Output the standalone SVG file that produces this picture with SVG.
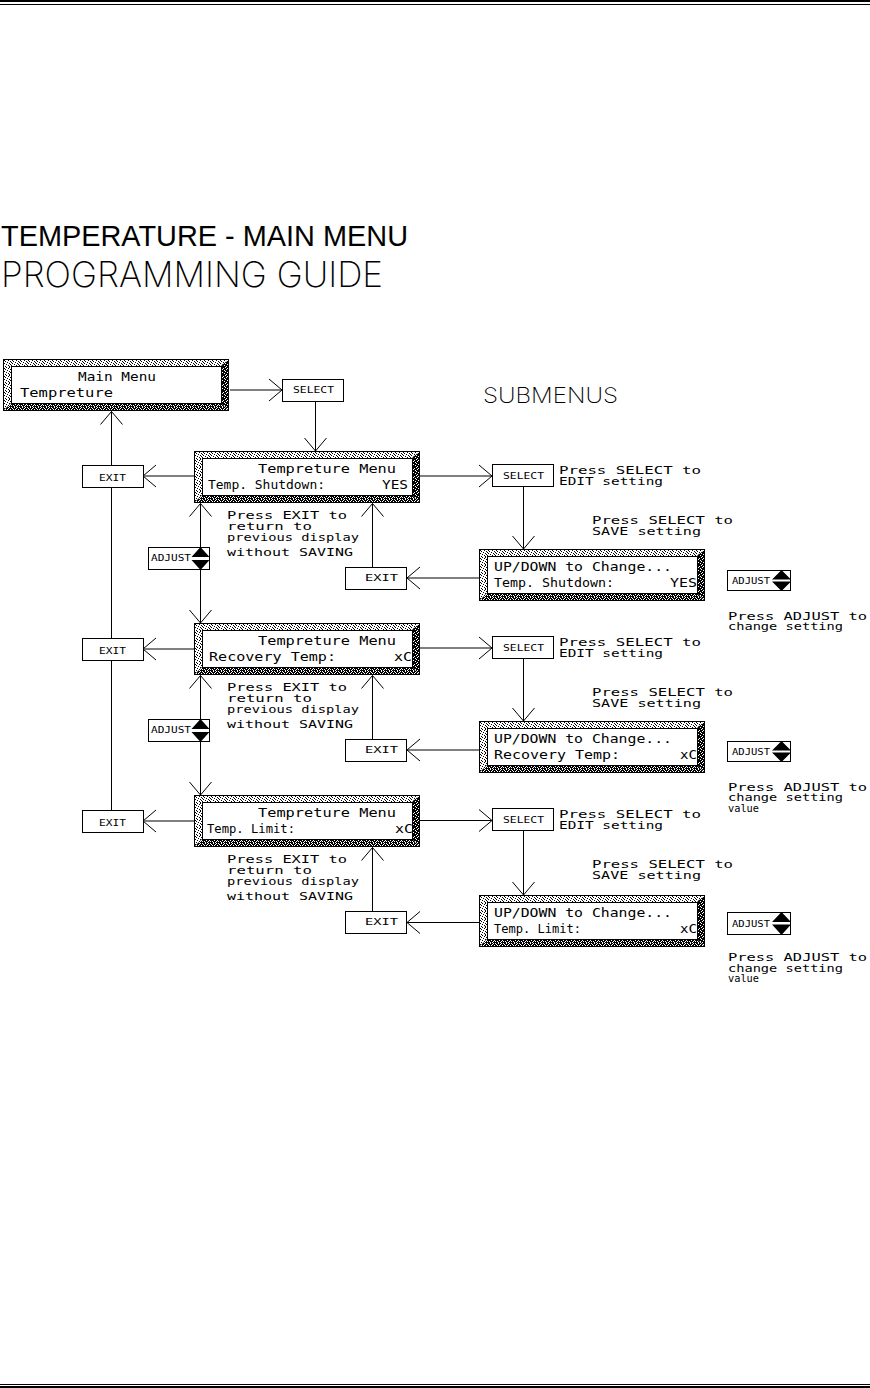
<svg xmlns="http://www.w3.org/2000/svg" xmlns:xlink="http://www.w3.org/1999/xlink" width="870" height="1388" viewBox="0 0 870 1388">
<style>
.t{font-family:"DejaVu Sans Mono","Liberation Mono",monospace;font-size:12px;fill:#000}
.n{font-family:"DejaVu Sans Mono","Liberation Mono",monospace;font-size:11px;fill:#000}
.b{font-family:"DejaVu Sans Mono","Liberation Mono",monospace;font-size:9px;fill:#000}
.a{font-family:"DejaVu Sans Mono","Liberation Mono",monospace;font-size:8.5px;fill:#000}
.big{font-family:Inter,"DejaVu Sans",sans-serif;font-weight:200;fill:#000}
.ln{stroke:#000;stroke-width:1;fill:none}
.box{fill:#fff;stroke:#000;stroke-width:1}
.arr{marker-end:url(#ah)}
</style>
<defs>
<marker id="ah" viewBox="0 0 30 30" markerWidth="30" markerHeight="30" refX="15" refY="15" orient="auto" markerUnits="userSpaceOnUse">
<path d="M2,4 L15,15 L2,26" fill="none" stroke="#000" stroke-width="1"/>
</marker>
<pattern id="lite" width="8" height="8" patternUnits="userSpaceOnUse">
<rect width="8" height="8" fill="#fff"/>
<path shape-rendering="crispEdges" fill="#000" d="M0 0h1v1h-1zM3 0h1v1h-1zM6 0h1v1h-1zM1 1h1v1h-1zM5 1h1v1h-1zM2 2h1v1h-1zM7 2h1v1h-1zM0 3h1v1h-1zM4 3h1v1h-1zM1 4h1v1h-1zM6 4h1v1h-1zM3 5h1v1h-1zM7 5h1v1h-1zM0 6h1v1h-1zM5 6h1v1h-1zM2 7h1v1h-1zM6 7h1v1h-1z"/>
</pattern>
<pattern id="mid" width="8" height="8" patternUnits="userSpaceOnUse">
<rect width="8" height="8" fill="#000"/>
<path shape-rendering="crispEdges" fill="#fff" d="M0 0h1v1h-1zM3 0h1v1h-1zM6 0h1v1h-1zM1 1h1v1h-1zM5 1h1v1h-1zM2 2h1v1h-1zM4 2h1v1h-1zM7 2h1v1h-1zM0 3h1v1h-1zM6 3h1v1h-1zM1 4h1v1h-1zM3 4h1v1h-1zM5 4h1v1h-1zM4 5h1v1h-1zM7 5h1v1h-1zM0 6h1v1h-1zM2 6h1v1h-1zM6 6h1v1h-1zM3 7h1v1h-1zM5 7h1v1h-1z"/>
</pattern>
<pattern id="dark" width="8" height="8" patternUnits="userSpaceOnUse">
<rect width="8" height="8" fill="#000"/>
<path shape-rendering="crispEdges" fill="#fff" d="M2 0h1v1h-1zM6 0h1v1h-1zM0 1h1v1h-1zM4 1h1v1h-1zM3 2h1v1h-1zM7 2h1v1h-1zM1 3h1v1h-1zM5 3h1v1h-1zM6 4h1v1h-1zM0 5h1v1h-1zM3 5h1v1h-1zM5 6h1v1h-1zM1 7h1v1h-1zM7 7h1v1h-1z"/>
</pattern>
<g id="lcd">
<rect x="0" y="0" width="226" height="52" fill="url(#lite)"/>
<path d="M218 7 L226 0 L226 52 L218 44 Z" fill="url(#dark)"/>
<path d="M8 44 L218 44 L226 52 L0 52 Z" fill="url(#mid)"/>
<rect x="0.5" y="0.5" width="225" height="51" fill="none" stroke="#000"/>
<rect x="8.5" y="7.5" width="210" height="37" fill="#fff" stroke="#000"/>
</g>
</defs>
<rect width="870" height="1388" fill="#fff"/>
<g id="page-rules" shape-rendering="crispEdges">
<rect x="0" y="0" width="870" height="2" fill="#000"/>
<rect x="0" y="4" width="870" height="1" fill="#000"/>
<rect x="0" y="1384" width="870" height="1" fill="#000"/>
<rect x="0" y="1386" width="870" height="2" fill="#000"/>
</g>
<g id="titles">
<text x="1" y="246" font-family="'Liberation Sans',Arial,sans-serif" font-size="29" textLength="407" lengthAdjust="spacingAndGlyphs">TEMPERATURE - MAIN MENU</text>
<text class="big" x="1" y="287" font-size="35" textLength="382" lengthAdjust="spacingAndGlyphs">PROGRAMMING GUIDE</text>
<text class="big" x="483" y="403" font-size="21" textLength="135" lengthAdjust="spacingAndGlyphs">SUBMENUS</text>
</g>
<g id="connectors">
<line class="ln arr" x1="230" y1="390" x2="282" y2="390"/>
<line class="ln arr" x1="315.5" y1="401" x2="315.5" y2="451"/>
<line class="ln arr" x1="111.5" y1="465" x2="111.5" y2="411.5"/>
<line class="ln" x1="111.5" y1="487" x2="111.5" y2="638"/>
<line class="ln" x1="111.5" y1="660" x2="111.5" y2="810"/>
<line class="ln arr" x1="194" y1="476" x2="143" y2="476"/>
<line class="ln arr" x1="194" y1="649" x2="143" y2="649"/>
<line class="ln arr" x1="194" y1="821" x2="143" y2="821"/>
<line class="ln arr" x1="200.5" y1="547" x2="200.5" y2="503.5"/>
<line class="ln arr" x1="200.5" y1="569" x2="200.5" y2="623"/>
<line class="ln arr" x1="200.5" y1="719" x2="200.5" y2="675.5"/>
<line class="ln arr" x1="200.5" y1="741" x2="200.5" y2="795"/>
<line class="ln arr" x1="420" y1="476" x2="492" y2="476"/>
<line class="ln arr" x1="420" y1="648" x2="492" y2="648"/>
<line class="ln arr" x1="420" y1="820.5" x2="492" y2="820.5"/>
<line class="ln arr" x1="523.5" y1="487" x2="523.5" y2="549"/>
<line class="ln arr" x1="523.5" y1="659" x2="523.5" y2="721"/>
<line class="ln arr" x1="523.5" y1="831" x2="523.5" y2="895"/>
<line class="ln arr" x1="479" y1="578" x2="407" y2="578"/>
<line class="ln arr" x1="479" y1="750" x2="407" y2="750"/>
<line class="ln arr" x1="479" y1="922.5" x2="407" y2="922.5"/>
<line class="ln arr" x1="372.5" y1="567" x2="372.5" y2="503.5"/>
<line class="ln arr" x1="372.5" y1="739" x2="372.5" y2="675.5"/>
<line class="ln arr" x1="372.5" y1="911" x2="372.5" y2="847.5"/>
</g>
<g id="main-menu" transform="translate(3,359)">
<use xlink:href="#lcd" href="#lcd"/>
<text class="t" x="75" y="21.5" textLength="78" lengthAdjust="spacingAndGlyphs">Main Menu</text>
<text class="t" x="17" y="37.5" textLength="93" lengthAdjust="spacingAndGlyphs">Tempreture</text>
</g>
<g id="select-main">
<rect class="box" x="282.5" y="379.5" width="61" height="22"/>
<text class="b" x="293" y="393" textLength="41" lengthAdjust="spacingAndGlyphs">SELECT</text>
</g>
<g id="temp-shutdown" transform="translate(194,451)">
<use xlink:href="#lcd" href="#lcd"/>
<text class="t" x="64" y="21.5" textLength="138" lengthAdjust="spacingAndGlyphs">Tempreture Menu</text>
<text class="t" x="14" y="37.5" textLength="117" lengthAdjust="spacingAndGlyphs">Temp. Shutdown:</text>
<text class="t" x="188" y="37.5" textLength="26" lengthAdjust="spacingAndGlyphs">YES</text>
</g>
<g id="recovery-temp" transform="translate(194,623)">
<use xlink:href="#lcd" href="#lcd"/>
<text class="t" x="64" y="21.5" textLength="138" lengthAdjust="spacingAndGlyphs">Tempreture Menu</text>
<text class="t" x="15" y="38" textLength="127" lengthAdjust="spacingAndGlyphs">Recovery Temp:</text>
<text class="t" x="200" y="38" textLength="18" lengthAdjust="spacingAndGlyphs">xC</text>
</g>
<g id="temp-limit" transform="translate(194,795)">
<use xlink:href="#lcd" href="#lcd"/>
<text class="t" x="64" y="21.5" textLength="138" lengthAdjust="spacingAndGlyphs">Tempreture Menu</text>
<text class="t" x="13" y="38" textLength="88" lengthAdjust="spacingAndGlyphs">Temp. Limit:</text>
<text class="t" x="201" y="38" textLength="18" lengthAdjust="spacingAndGlyphs">xC</text>
</g>
<g id="exit-left-1"><rect class="box" x="82.5" y="465.5" width="61" height="22"/><text class="b" x="99" y="480.5" textLength="27" lengthAdjust="spacingAndGlyphs">EXIT</text></g>
<g id="exit-left-2"><rect class="box" x="82.5" y="638.5" width="61" height="22"/><text class="b" x="99" y="653.5" textLength="27" lengthAdjust="spacingAndGlyphs">EXIT</text></g>
<g id="exit-left-3"><rect class="box" x="82.5" y="810.5" width="61" height="22"/><text class="b" x="99" y="825.5" textLength="27" lengthAdjust="spacingAndGlyphs">EXIT</text></g>
<g id="adjust-left-1">
<rect class="box" x="148.5" y="547.5" width="61" height="22"/>
<text class="a" x="151" y="561" textLength="40" lengthAdjust="spacingAndGlyphs">ADJUST</text>
<path d="M200.5 547 L191.5 557 L209.5 557 Z M191.5 560 L209.5 560 L200.5 570 Z" fill="#000"/>
</g>
<g id="adjust-left-2">
<rect class="box" x="148.5" y="719.5" width="61" height="22"/>
<text class="a" x="151" y="733" textLength="40" lengthAdjust="spacingAndGlyphs">ADJUST</text>
<path d="M200.5 719 L191.5 729 L209.5 729 Z M191.5 732 L209.5 732 L200.5 742 Z" fill="#000"/>
</g>
<g id="exit-note-1" class="n">
<text x="227" y="519" textLength="120" lengthAdjust="spacingAndGlyphs">Press EXIT to</text>
<text x="227" y="529.5" textLength="85" lengthAdjust="spacingAndGlyphs">return to</text>
<text x="227" y="540.5" textLength="132" lengthAdjust="spacingAndGlyphs">previous display</text>
<text x="227" y="556" textLength="126" lengthAdjust="spacingAndGlyphs">without SAVING</text>
</g>
<g id="exit-note-2" class="n">
<text x="227" y="691" textLength="120" lengthAdjust="spacingAndGlyphs">Press EXIT to</text>
<text x="227" y="701.5" textLength="85" lengthAdjust="spacingAndGlyphs">return to</text>
<text x="227" y="712.5" textLength="132" lengthAdjust="spacingAndGlyphs">previous display</text>
<text x="227" y="728" textLength="126" lengthAdjust="spacingAndGlyphs">without SAVING</text>
</g>
<g id="exit-note-3" class="n">
<text x="227" y="863" textLength="120" lengthAdjust="spacingAndGlyphs">Press EXIT to</text>
<text x="227" y="873.5" textLength="85" lengthAdjust="spacingAndGlyphs">return to</text>
<text x="227" y="884.5" textLength="132" lengthAdjust="spacingAndGlyphs">previous display</text>
<text x="227" y="900" textLength="126" lengthAdjust="spacingAndGlyphs">without SAVING</text>
</g>
<g id="exit-mid-1"><rect class="box" x="345.5" y="567.5" width="61" height="22"/><text class="b" x="365" y="581" textLength="33" lengthAdjust="spacingAndGlyphs">EXIT</text></g>
<g id="exit-mid-2"><rect class="box" x="345.5" y="739.5" width="61" height="22"/><text class="b" x="365" y="753" textLength="33" lengthAdjust="spacingAndGlyphs">EXIT</text></g>
<g id="exit-mid-3"><rect class="box" x="345.5" y="911.5" width="61" height="22"/><text class="b" x="365" y="925" textLength="33" lengthAdjust="spacingAndGlyphs">EXIT</text></g>
<g id="select-sub-1"><rect class="box" x="492.5" y="464.5" width="61" height="22"/><text class="b" x="503" y="478.5" textLength="41" lengthAdjust="spacingAndGlyphs">SELECT</text></g>
<g id="select-sub-2"><rect class="box" x="492.5" y="636.5" width="61" height="22"/><text class="b" x="503" y="650.5" textLength="41" lengthAdjust="spacingAndGlyphs">SELECT</text></g>
<g id="select-sub-3"><rect class="box" x="492.5" y="808.5" width="61" height="22"/><text class="b" x="503" y="822.5" textLength="41" lengthAdjust="spacingAndGlyphs">SELECT</text></g>
<g id="edit-note-1" class="n"><text x="559" y="473.5" textLength="142" lengthAdjust="spacingAndGlyphs">Press SELECT to</text><text x="559" y="484.5" textLength="104" lengthAdjust="spacingAndGlyphs">EDIT setting</text></g>
<g id="edit-note-2" class="n"><text x="559" y="645.5" textLength="142" lengthAdjust="spacingAndGlyphs">Press SELECT to</text><text x="559" y="656.5" textLength="104" lengthAdjust="spacingAndGlyphs">EDIT setting</text></g>
<g id="edit-note-3" class="n"><text x="559" y="817.5" textLength="142" lengthAdjust="spacingAndGlyphs">Press SELECT to</text><text x="559" y="828.5" textLength="104" lengthAdjust="spacingAndGlyphs">EDIT setting</text></g>
<g id="save-note-1" class="n"><text x="592" y="524" textLength="141" lengthAdjust="spacingAndGlyphs">Press SELECT to</text><text x="592" y="535" textLength="109" lengthAdjust="spacingAndGlyphs">SAVE setting</text></g>
<g id="save-note-2" class="n"><text x="592" y="696" textLength="141" lengthAdjust="spacingAndGlyphs">Press SELECT to</text><text x="592" y="707" textLength="109" lengthAdjust="spacingAndGlyphs">SAVE setting</text></g>
<g id="save-note-3" class="n"><text x="592" y="868" textLength="141" lengthAdjust="spacingAndGlyphs">Press SELECT to</text><text x="592" y="879" textLength="109" lengthAdjust="spacingAndGlyphs">SAVE setting</text></g>
<g id="edit-shutdown" transform="translate(479,549)">
<use xlink:href="#lcd" href="#lcd"/>
<text class="t" x="15" y="22" textLength="178" lengthAdjust="spacingAndGlyphs">UP/DOWN to Change...</text>
<text class="t" x="15" y="38" textLength="120" lengthAdjust="spacingAndGlyphs">Temp. Shutdown:</text>
<text class="t" x="191" y="38" textLength="27" lengthAdjust="spacingAndGlyphs">YES</text>
</g>
<g id="edit-recovery" transform="translate(479,721)">
<use xlink:href="#lcd" href="#lcd"/>
<text class="t" x="15" y="22" textLength="178" lengthAdjust="spacingAndGlyphs">UP/DOWN to Change...</text>
<text class="t" x="15" y="38" textLength="126" lengthAdjust="spacingAndGlyphs">Recovery Temp:</text>
<text class="t" x="201" y="38" textLength="17" lengthAdjust="spacingAndGlyphs">xC</text>
</g>
<g id="edit-limit" transform="translate(479,895)">
<use xlink:href="#lcd" href="#lcd"/>
<text class="t" x="15" y="22" textLength="178" lengthAdjust="spacingAndGlyphs">UP/DOWN to Change...</text>
<text class="t" x="15" y="38" textLength="87" lengthAdjust="spacingAndGlyphs">Temp. Limit:</text>
<text class="t" x="201" y="38" textLength="17" lengthAdjust="spacingAndGlyphs">xC</text>
</g>
<g id="adjust-right-1">
<rect class="box" x="727.5" y="570.5" width="63" height="20"/>
<text class="a" x="732" y="583.5" textLength="38" lengthAdjust="spacingAndGlyphs">ADJUST</text>
<path d="M781.5 570 L772 579.5 L791 579.5 Z M772 581.5 L791 581.5 L781.5 591 Z" fill="#000"/>
</g>
<g id="adjust-right-2">
<rect class="box" x="727.5" y="741.5" width="63" height="20"/>
<text class="a" x="732" y="754.5" textLength="38" lengthAdjust="spacingAndGlyphs">ADJUST</text>
<path d="M781.5 741 L772 750.5 L791 750.5 Z M772 752.5 L791 752.5 L781.5 762 Z" fill="#000"/>
</g>
<g id="adjust-right-3">
<rect class="box" x="727.5" y="912.5" width="63" height="22"/>
<text class="a" x="732" y="926.5" textLength="38" lengthAdjust="spacingAndGlyphs">ADJUST</text>
<path d="M781.5 912 L772 922 L791 922 Z M772 924.5 L791 924.5 L781.5 935 Z" fill="#000"/>
</g>
<g id="adjust-note-1" class="n"><text x="728" y="619.5" textLength="139" lengthAdjust="spacingAndGlyphs">Press ADJUST to</text><text x="728" y="630" textLength="115" lengthAdjust="spacingAndGlyphs">change setting</text></g>
<g id="adjust-note-2" class="n"><text x="728" y="790.5" textLength="139" lengthAdjust="spacingAndGlyphs">Press ADJUST to</text><text x="728" y="801" textLength="115" lengthAdjust="spacingAndGlyphs">change setting</text><text x="728" y="811.5" textLength="31" lengthAdjust="spacingAndGlyphs">value</text></g>
<g id="adjust-note-3" class="n"><text x="728" y="961" textLength="139" lengthAdjust="spacingAndGlyphs">Press ADJUST to</text><text x="728" y="971.5" textLength="115" lengthAdjust="spacingAndGlyphs">change setting</text><text x="728" y="982" textLength="31" lengthAdjust="spacingAndGlyphs">value</text></g>
</svg>
